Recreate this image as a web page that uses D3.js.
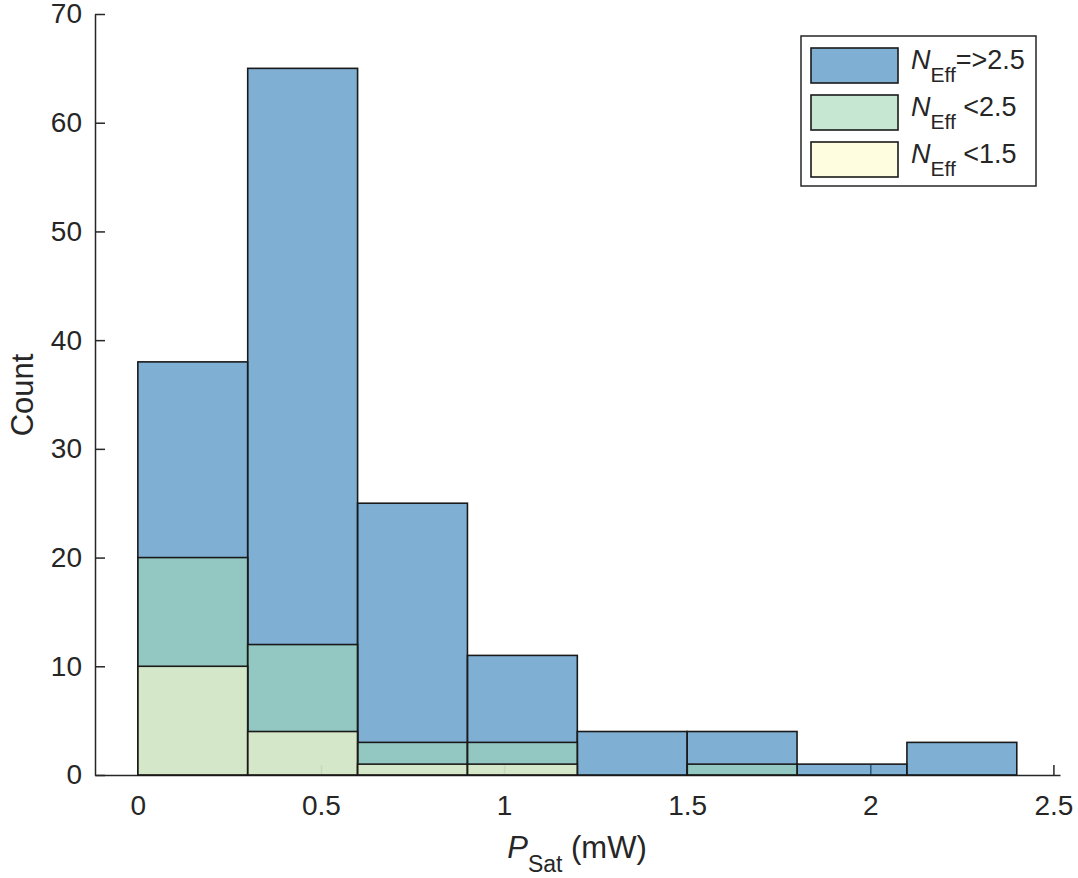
<!DOCTYPE html>
<html>
<head>
<meta charset="utf-8">
<script src="https://cdn.jsdelivr.net/npm/d3@7"></script>
<style>
  html, body { margin: 0; padding: 0; background: #fff; }
  text { font-family: "Liberation Sans", Arial, Helvetica, sans-serif; fill: #262626; }
</style>
</head>
<body>
<svg id="chart" width="1078" height="878"></svg>
<script>
// ---- data ----
const binEdges = [0, 0.3, 0.6, 0.9, 1.2, 1.5, 1.8, 2.1, 2.4];
const countsHigh = [38, 65, 25, 11, 4, 4, 1, 3];   // N_Eff => 2.5
const countsMid  = [20, 12, 3, 3, 0, 1, 0, 0];     // N_Eff < 2.5
const countsLow  = [10, 4, 1, 1, 0, 0, 0, 0];      // N_Eff < 1.5
const xTicks = [0, 0.5, 1, 1.5, 2, 2.5];
const xTickLabels = ["0", "0.5", "1", "1.5", "2", "2.5"];
const yTicks = [0, 10, 20, 30, 40, 50, 60, 70];
const seriesNames = ["=>2.5", " <2.5", " <1.5"];
const seriesColors = ["#2a7bb7", "#a0d9b6", "#fffccb"];

const svg = d3.select("#chart");
const x = d3.scaleLinear().domain([-0.117, 2.518]).range([95, 1060]);
const y = d3.scaleLinear().domain([0, 70]).range([775, 14]);
const axisColor = "#262626";

// ---- axes (drawn beneath bars) ----
const gx = svg.append("g").attr("transform", `translate(0,${y(0)})`)
  .call(d3.axisBottom(x).tickValues(xTicks).tickFormat((d, i) => xTickLabels[i])
    .tickSizeInner(-10).tickSizeOuter(0).tickPadding(20));
const gy = svg.append("g").attr("transform", `translate(${x(-0.117)},0)`)
  .call(d3.axisLeft(y).tickValues(yTicks).tickSizeInner(-10).tickSizeOuter(0).tickPadding(13));
[gx, gy].forEach(g => {
  g.select(".domain").attr("stroke", axisColor).attr("stroke-width", 1.5);
  g.selectAll(".tick line").attr("stroke", axisColor).attr("stroke-width", 1.5);
  g.selectAll(".tick text").attr("font-size", 28).attr("fill", axisColor)
    .style("font-family", '"Liberation Sans", Arial, Helvetica, sans-serif');
});

// ---- bars (overlaid, translucent) ----
const allSeries = [countsHigh, countsMid, countsLow];
allSeries.forEach((counts, si) => {
  const bins = counts.map((c, i) => ({ x0: binEdges[i], x1: binEdges[i + 1], c }));
  svg.append("g").selectAll("rect").data(bins.filter(b => b.c > 0)).join("rect")
    .attr("x", d => x(d.x0))
    .attr("width", d => x(d.x1) - x(d.x0))
    .attr("y", d => y(d.c))
    .attr("height", d => y(0) - y(d.c))
    .attr("fill", seriesColors[si])
    .attr("fill-opacity", 0.6)
    .attr("stroke", "#1a1a1a")
    .attr("stroke-width", 1.6);
});

// ---- axis labels ----
svg.append("text")
  .attr("transform", `translate(33,395) rotate(-90)`)
  .attr("text-anchor", "middle")
  .attr("font-size", 31)
  .text("Count");

const xl = svg.append("text")
  .attr("x", 577).attr("y", 858)
  .attr("text-anchor", "middle")
  .attr("font-size", 31);
xl.append("tspan").attr("font-style", "italic").text("P");
xl.append("tspan").attr("font-size", 23).attr("dy", 14).text("Sat");
xl.append("tspan").attr("dy", -14).text(" (mW)");

// ---- legend ----
const leg = svg.append("g");
leg.append("rect").attr("x", 801).attr("y", 36).attr("width", 235).attr("height", 150)
  .attr("fill", "#fff").attr("stroke", axisColor).attr("stroke-width", 1.5);
const rowY = [48, 95, 142];
seriesNames.forEach((name, i) => {
  leg.append("rect").attr("x", 811).attr("y", rowY[i]).attr("width", 87).attr("height", 35)
    .attr("fill", seriesColors[i]).attr("fill-opacity", 0.6)
    .attr("stroke", "#1a1a1a").attr("stroke-width", 1.6);
  const t = leg.append("text").attr("x", 911).attr("y", rowY[i] + 21).attr("font-size", 27);
  t.append("tspan").attr("font-style", "italic").text("N");
  t.append("tspan").attr("font-size", 21).attr("dy", 13).text("Eff");
  t.append("tspan").attr("dy", -13).text(name);
});
</script>
</body>
</html>
